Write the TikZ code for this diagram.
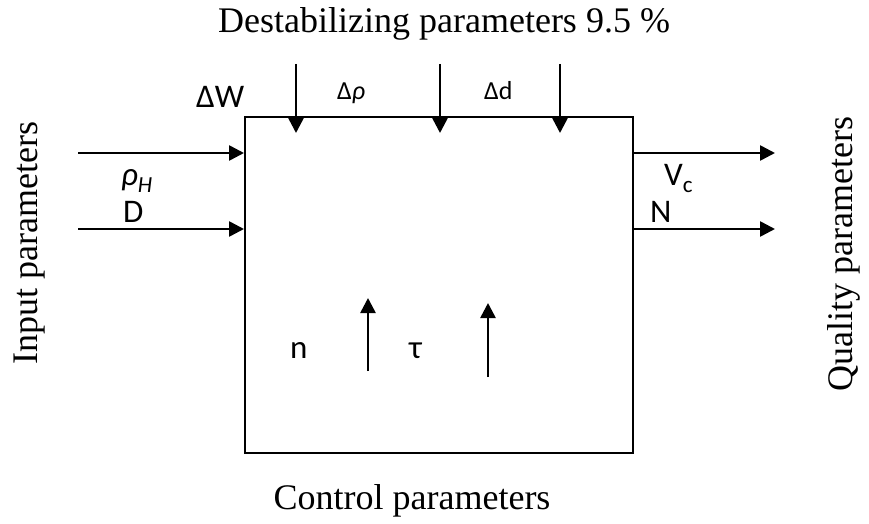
\documentclass[tikz,border=0pt]{standalone}
\usepackage{fontspec}
\setmainfont{Liberation Serif}
\newfontfamily\carfont{Carlito}
\usetikzlibrary{arrows.meta}
\begin{document}
\begin{tikzpicture}[x=1pt,y=-1pt,
  conn/.style={line width=2.6pt,-{Triangle[length=15pt,width=15pt]}},
  lbl/.style={font=\carfont\fontsize{33}{33}\selectfont,inner sep=0pt,anchor=base west},
  slbl/.style={font=\carfont\fontsize{26}{26}\selectfont,inner sep=0pt,anchor=base west},
  ttl/.style={font=\fontsize{36}{36}\selectfont,inner sep=0pt,anchor=base}]
\useasboundingbox (0,0) rectangle (869,524);
\node[draw,line width=2.2pt,minimum width=388pt,minimum height=336pt,inner sep=0pt,anchor=north west] (box) at (244,116) {};
\node[ttl] (dest) at (444,33) {Destabilizing parameters 9.5 \%};
\node[ttl] (ctrl) at (412,509) {Control parameters};
\node[ttl,rotate=90] (inp) at (37,243) {Input parameters};
\node[ttl,rotate=90] (qual) at (852,254) {Quality parameters};
% top arrows
\coordinate (t1) at (296,64); \coordinate (t1e) at (296,133);
\coordinate (t2) at (440,64); \coordinate (t2e) at (440,133);
\coordinate (t3) at (560,64); \coordinate (t3e) at (560,133);
\draw[conn] (t1) -- (t1e);
\draw[conn] (t2) -- (t2e);
\draw[conn] (t3) -- (t3e);
% inputs
\coordinate (i1) at (78,153); \coordinate (i2) at (78,229);
\draw[conn] (i1) -- (i1 -| box.west);
\draw[conn] (i2) -- (i2 -| box.west);
% outputs
\coordinate (o1) at (775,153); \coordinate (o2) at (775,229);
\draw[conn] (o1 -| box.east) -- (o1);
\draw[conn] (o2 -| box.east) -- (o2);
% bottom up arrows
\coordinate (u1) at (368,371); \coordinate (u1e) at (368,298);
\coordinate (u2) at (488,377); \coordinate (u2e) at (488,303);
\draw[conn] (u1) -- (u1e);
\draw[conn] (u2) -- (u2e);
% labels
\node[lbl] (dw) at (196,107) {ΔW};
\node[slbl] (drho) at (337,100) {Δ\textit{ρ}};
\node[slbl] (dd) at (484,100) {Δd};
\node[lbl] (rho) at (121,185) {\textit{ρ}\raisebox{-7pt}{\fontsize{23}{23}\selectfont\textit{H}}};
\node[lbl] (D) at (123,222) {D};
\node[lbl] (vc) at (664,185) {V\raisebox{-7pt}{\fontsize{23}{23}\selectfont c}};
\node[lbl] (N) at (650,222) {N};
\node[lbl] (n) at (290,358) {n};
\node[lbl] (tau) at (409,358) {τ};
\end{tikzpicture}
\end{document}
